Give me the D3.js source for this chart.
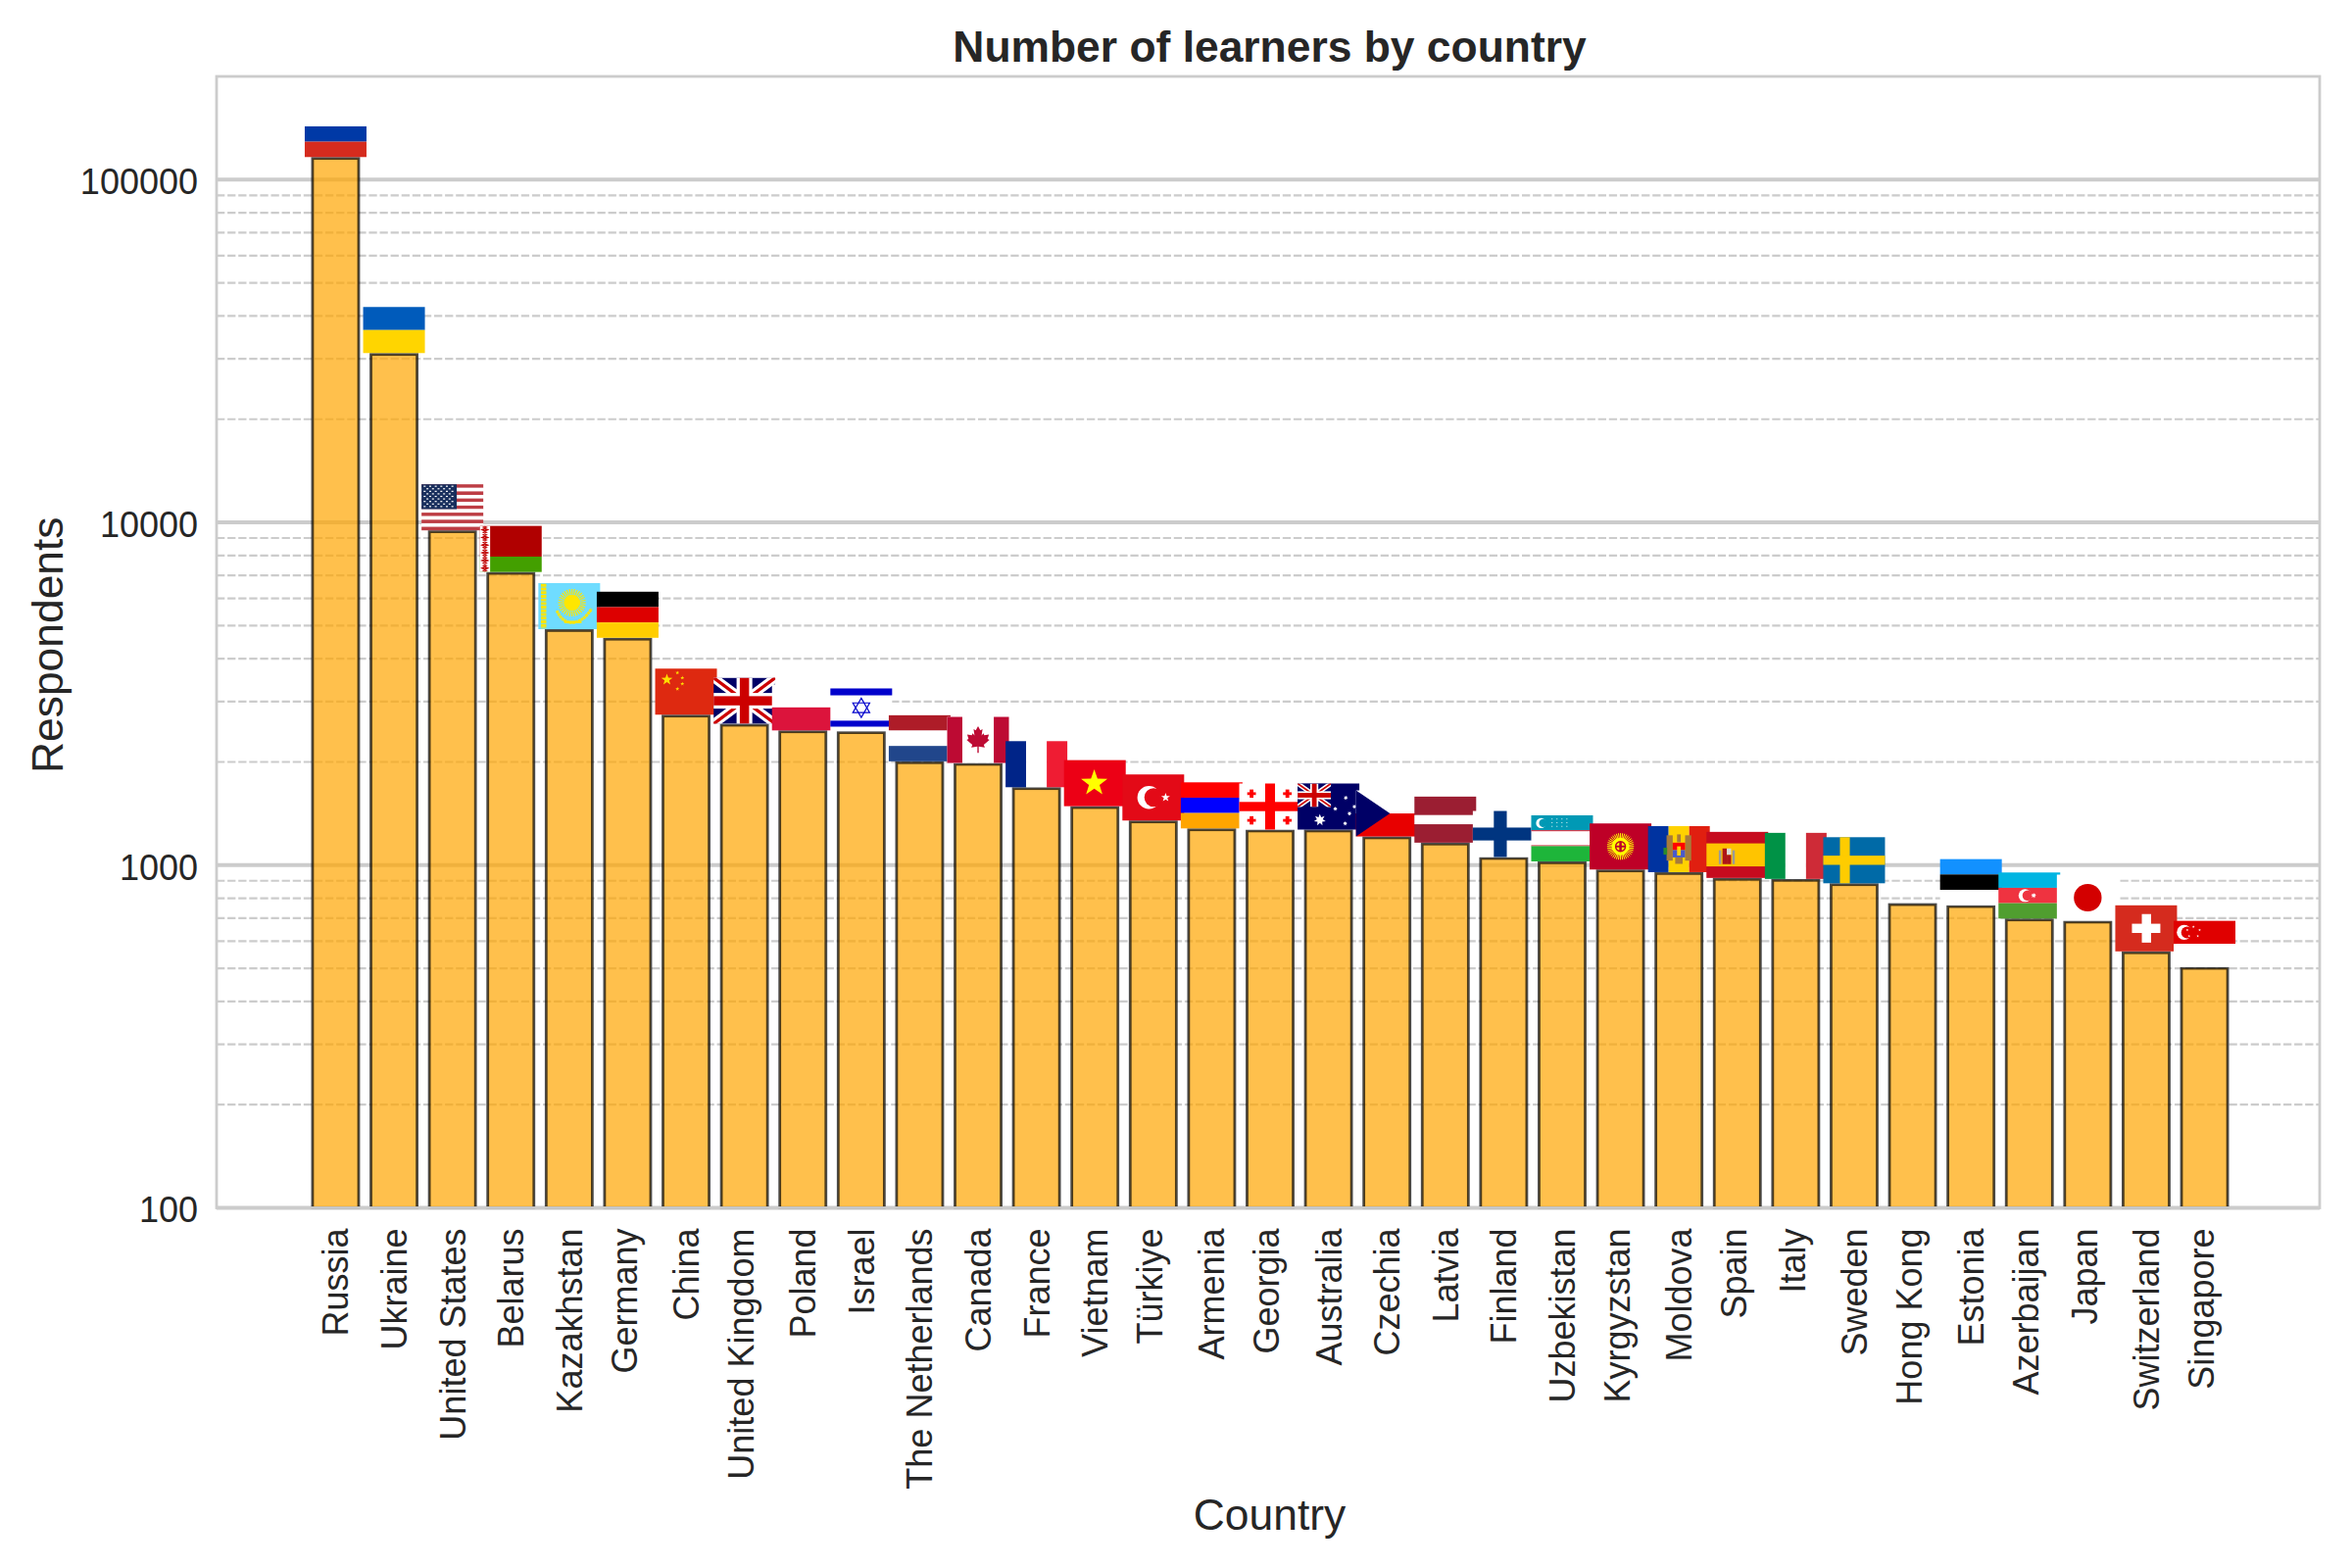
<!DOCTYPE html>
<html>
<head>
<meta charset="utf-8">
<script src="https://cdnjs.cloudflare.com/ajax/libs/d3/7.8.5/d3.min.js"></script>
<style>
  body { margin: 0; background: #fff; }
  text { font-family: "Liberation Sans", Arial, sans-serif; fill: #262626; }
</style>
</head>
<body>
<div id="vizcontainer"></div>
<script>
var countries = ["Russia", "Ukraine", "United States", "Belarus", "Kazakhstan", "Germany", "China",
    "United Kingdom", "Poland", "Israel", "The Netherlands", "Canada", "France", "Vietnam", "Türkiye",
    "Armenia", "Georgia", "Australia", "Czechia", "Latvia", "Finland", "Uzbekistan", "Kyrgyzstan",
    "Moldova", "Spain", "Italy", "Sweden", "Hong Kong", "Estonia", "Azerbaijan", "Japan", "Switzerland",
    "Singapore"];
var respondents = [115300, 30900, 9390, 7100, 4835, 4563, 2722, 2560, 2449, 2435, 1990, 1968, 1672, 1472,
    1337, 1268, 1258, 1258, 1201, 1152, 1046, 1016, 962, 945, 909, 903, 877, 767, 757, 692, 682, 555, 500];
var majorTicks = [100, 1000, 10000, 100000];
var yDomain = [100, 200000];

var width = 2400, height = 1600;
var left = 221, right = 2367, top_ = 78, bottom = 1232.5;

var svg = d3.select("#vizcontainer").append("svg")
    .attr("width", width).attr("height", height)
    .style("display", "block").style("background-color", "#fff");

var x = d3.scaleBand().domain(countries).range([left, right + 4]).paddingInner(0.21).paddingOuter(1.643);
var y = d3.scaleLog().domain(yDomain).range([bottom, top_]);

var minorTicks = y.ticks().filter(function(d) {
    return majorTicks.indexOf(d) == -1 && d < yDomain[1];
});

// grid goes under the bars, they are see-through
svg.selectAll(".minor").data(minorTicks).enter().append("line")
    .attr("class", "minor")
    .attr("x1", left).attr("x2", right)
    .attr("y1", y).attr("y2", y)
    .attr("stroke", "#cccccc").attr("stroke-width", 2.2)
    .attr("stroke-dasharray", "8.3 2.8");
svg.selectAll(".major").data(majorTicks).enter().append("line")
    .attr("class", "major")
    .attr("x1", left).attr("x2", right)
    .attr("y1", y).attr("y2", y)
    .attr("stroke", "#cccccc").attr("stroke-width", 4);

svg.selectAll(".bar").data(countries).enter().append("rect")
    .attr("class", "bar")
    .attr("x", function(d) { return x(d); })
    .attr("width", x.bandwidth())
    .attr("y", function(d, i) { return y(respondents[i]); })
    .attr("height", function(d, i) { return bottom - y(respondents[i]); })
    .attr("fill", "orange").attr("fill-opacity", 0.7)
    .attr("stroke", "black").attr("stroke-opacity", 0.7).attr("stroke-width", 2.8);

// spines
svg.append("rect")
    .attr("x", left).attr("y", top_).attr("width", right - left).attr("height", bottom - top_)
    .attr("fill", "none").attr("stroke", "#cccccc").attr("stroke-width", 2.8);

// flag helpers, all coordinates are fractions of the flag box
var FW = 640, FH = 480;

function box(g, x0, y0, x1, y1, fill) {
    return g.append("rect")
        .attr("x", x0 * FW).attr("y", y0 * FH)
        .attr("width", (x1 - x0) * FW).attr("height", (y1 - y0) * FH)
        .attr("fill", fill);
}
function disc(g, cx, cy, r, fill) {
    return g.append("circle").attr("cx", cx * FW).attr("cy", cy * FH).attr("r", r * FH).attr("fill", fill);
}
function starPoints(cx, cy, r, n, inner) {
    var pts = [];
    for (var i = 0; i < n * 2; i++) {
        var a = -Math.PI / 2 + i * Math.PI / n;
        var rr = i % 2 == 0 ? r : r * inner;
        pts.push([cx * FW + rr * FH * Math.cos(a), cy * FH + rr * FH * Math.sin(a)].join(","));
    }
    return pts.join(" ");
}
function star(g, cx, cy, r, fill, n, inner) {
    return g.append("polygon").attr("points", starPoints(cx, cy, r, n || 5, inner || 0.4)).attr("fill", fill);
}
function stripes(g, colors) {
    colors.forEach(function(c, i) {
        box(g, 0, i / colors.length, 1, (i + 1) / colors.length, c);
    });
}
function columns(g, colors) {
    colors.forEach(function(c, i) {
        box(g, i / colors.length, 0, (i + 1) / colors.length, 1, c);
    });
}
function crescent(g, cx, cy, r, bg) {
    disc(g, cx, cy, r, "#fff");
    disc(g, cx + r * 0.3, cy, r * 0.8, bg);
}
function poly(g, points, fill) {
    return g.append("polygon").attr("fill", fill).attr("points", points.map(function(p) {
        return (p[0] * FW) + "," + (p[1] * FH);
    }).join(" "));
}
function unionJack(g, x1, y1, id) {
    var w = x1 * FW, h = y1 * FH;
    var clip = svg.append("clipPath").attr("id", id);
    clip.append("rect").attr("width", w).attr("height", h);
    var u = g.append("g").attr("clip-path", "url(#" + id + ")");
    u.append("rect").attr("width", w).attr("height", h).attr("fill", "#000066");
    var diag = "M0,0L" + w + "," + h + "M" + w + ",0L0," + h;
    u.append("path").attr("d", diag).attr("stroke", "#fff").attr("stroke-width", h * 0.2);
    u.append("path").attr("d", diag).attr("stroke", "#cc0000").attr("stroke-width", h * 0.07);
    u.append("rect").attr("x", w * 0.5 - h * 0.17).attr("width", h * 0.34).attr("height", h).attr("fill", "#fff");
    u.append("rect").attr("y", h * 0.33).attr("width", w).attr("height", h * 0.34).attr("fill", "#fff");
    u.append("rect").attr("x", w * 0.5 - h * 0.1).attr("width", h * 0.2).attr("height", h).attr("fill", "#cc0000");
    u.append("rect").attr("y", h * 0.4).attr("width", w).attr("height", h * 0.2).attr("fill", "#cc0000");
}
function rays(g, cx, cy, r0, r1, count, color, sw) {
    d3.range(count).forEach(function(i) {
        var a = i / count * 2 * Math.PI;
        g.append("line")
            .attr("x1", cx * FW + r0 * FH * Math.cos(a)).attr("y1", cy * FH + r0 * FH * Math.sin(a))
            .attr("x2", cx * FW + r1 * FH * Math.cos(a)).attr("y2", cy * FH + r1 * FH * Math.sin(a))
            .attr("stroke", color).attr("stroke-width", sw);
    });
}

var mapleLeaf = [[0,-100],[-17,-68],[-33,-77],[-26,-30],[-40,-46],[-46,-32],[-80,-38],[-70,-5],[-84,3],[-42,40],
    [-50,60],[-5,52],[-5,100],[5,100],[5,52],[50,60],[42,40],[84,3],[70,-5],[80,-38],[46,-32],[40,-46],[26,-30],
    [33,-77],[17,-68]];

var flagDrawers = {
    "Russia": function(g) { stripes(g, ["#fff", "#0039a6", "#d52b1e"]); },
    "Ukraine": function(g) { stripes(g, ["#005bbb", "#ffd500"]); },
    "United States": function(g) {
        d3.range(13).forEach(function(i) {
            box(g, 0, i / 13, 1, (i + 1) / 13, i % 2 == 0 ? "#bd3d44" : "#fff");
        });
        box(g, 0, 0, 0.57, 7 / 13, "#192f5d");
        d3.range(9).forEach(function(row) {
            var n = row % 2 == 0 ? 6 : 5;
            d3.range(n).forEach(function(col) {
                var cx = (row % 2 == 0 ? 0.05 : 0.095) + col * 0.09;
                box(g, cx - 0.016, 0.03 + row * 0.055, cx + 0.016, 0.055 + row * 0.055, "#fff");
            });
        });
    },
    "Belarus": function(g) {
        box(g, 0, 0, 1, 2 / 3, "#b00000");
        box(g, 0, 2 / 3, 1, 1, "#439f00");
        box(g, 0, 0, 0.165, 1, "#fff");
        // ornament column, one big diamond every third row
        d3.range(18).forEach(function(i) {
            var cy = (i + 0.5) / 18;
            var big = i % 3 == 1;
            var rx = big ? 0.075 : 0.05, ry = big ? 0.04 : 0.026;
            poly(g, [[0.08, cy - ry], [0.08 + rx, cy], [0.08, cy + ry], [0.08 - rx, cy]], "#c00000");
            disc(g, 0.08, cy, 0.009, "#fff");
        });
    },
    "Kazakhstan": function(g) {
        box(g, 0, 0, 1, 1, "#6fdcff");
        var yellow = "#ffe600";
        g.append("path")
            .attr("d", "M" + (0.085 * FW) + ",8V" + (FH - 8))
            .attr("stroke", yellow).attr("stroke-width", 56).attr("stroke-dasharray", "30 8");
        rays(g, 0.545, 0.425, 0.19, 0.3, 32, yellow, 12);
        disc(g, 0.545, 0.425, 0.18, yellow);
        g.append("path")
            .attr("d", "M" + (0.3 * FW) + "," + (0.6 * FH) + "Q" + (0.4 * FW) + "," + (0.9 * FH) + " " + (0.6 * FW) + "," + (0.85 * FH)
                + "Q" + (0.75 * FW) + "," + (0.8 * FH) + " " + (0.86 * FW) + "," + (0.56 * FH))
            .attr("fill", "none").attr("stroke", yellow).attr("stroke-width", 30).attr("stroke-dasharray", "26 5");
        box(g, 0.42, 0.82, 0.7, 0.87, yellow);
    },
    "Germany": function(g) { stripes(g, ["#000", "#dd0000", "#ffce00"]); },
    "China": function(g) {
        box(g, 0, 0, 1, 1, "#de2910");
        star(g, 0.19, 0.24, 0.13, "#ffde00");
        [[0.36, 0.09], [0.44, 0.2], [0.44, 0.33], [0.36, 0.44]].forEach(function(p) {
            star(g, p[0], p[1], 0.045, "#ffde00");
        });
    },
    "United Kingdom": function(g) {
        unionJack(g, 1, 1, "uk-clip");
    },
    "Poland": function(g) { stripes(g, ["#fff", "#dc143c"]); },
    "Israel": function(g) {
        box(g, 0, 0, 1, 1, "#fff");
        box(g, 0, 0.07, 1, 0.22, "#0000cc");
        box(g, 0, 0.77, 1, 0.9, "#0000cc");
        [0, 1].forEach(function(i) {
            var cy = 0.49 * FH, r = 0.21 * FH, flip = i == 0 ? 1 : -1;
            var pts = [0, 1, 2].map(function(k) {
                var a = -Math.PI / 2 + k * 2 * Math.PI / 3;
                return [0.5 * FW + r * Math.cos(a), cy + flip * r * Math.sin(a)].join(",");
            }).join(" ");
            g.append("polygon").attr("points", pts).attr("fill", "none").attr("stroke", "#0000cc").attr("stroke-width", 12);
        });
    },
    "The Netherlands": function(g) { stripes(g, ["#ae1c28", "#fff", "#21468b"]); },
    "Canada": function(g) {
        box(g, 0, 0, 1, 1, "#fff");
        box(g, 0, 0, 0.245, 1, "#bd0a33");
        box(g, 0.755, 0, 1, 1, "#bd0a33");
        poly(g, mapleLeaf.map(function(p) {
            return [0.5 + p[0] * 0.0022, 0.49 + p[1] * 0.0029];
        }), "#bd0a33");
    },
    "France": function(g) { columns(g, ["#002488", "#fff", "#ef1c33"]); },
    "Vietnam": function(g) {
        box(g, 0, 0, 1, 1, "#ec0015");
        star(g, 0.49, 0.5, 0.3, "#ffff00");
    },
    "Türkiye": function(g) {
        box(g, 0, 0, 1, 1, "#e30a17");
        crescent(g, 0.43, 0.5, 0.25, "#e30a17");
        star(g, 0.7, 0.5, 0.1, "#fff");
    },
    "Armenia": function(g) { stripes(g, ["#ff0000", "#0000ff", "#ffa500"]); },
    "Georgia": function(g) {
        box(g, 0, 0, 1, 1, "#fff");
        box(g, 0.42, 0, 0.58, 1, "#ff0000");
        box(g, 0, 0.4, 1, 0.6, "#ff0000");
        [[0.2, 0.22], [0.78, 0.22], [0.2, 0.8], [0.78, 0.8]].forEach(function(p) {
            box(g, p[0] - 0.07, p[1] - 0.03, p[0] + 0.07, p[1] + 0.03, "#ff0000");
            box(g, p[0] - 0.03, p[1] - 0.09, p[0] + 0.03, p[1] + 0.09, "#ff0000");
        });
    },
    "Australia": function(g) {
        box(g, 0, 0, 1, 1, "#000066");
        unionJack(g, 0.54, 0.51, "au-clip");
        star(g, 0.36, 0.79, 0.13, "#fff", 7, 0.5);
        [[0.78, 0.31], [0.61, 0.55], [0.92, 0.5], [0.84, 0.65], [0.77, 0.87]].forEach(function(p) {
            star(g, p[0], p[1], 0.05, "#fff", 7, 0.5);
        });
    },
    "Czechia": function(g) {
        stripes(g, ["#fff", "#e80000"]);
        poly(g, [[0, 0], [0.55, 0.5], [0, 1]], "#000066");
    },
    "Latvia": function(g) {
        box(g, 0, 0, 1, 1, "#9b1e32");
        box(g, 0, 0.4, 1, 0.6, "#fff");
    },
    "Finland": function(g) {
        box(g, 0, 0, 1, 1, "#fff");
        box(g, 0.34, 0, 0.55, 1, "#003580");
        box(g, 0, 0.36, 1, 0.64, "#003580");
    },
    "Uzbekistan": function(g) {
        box(g, 0, 0, 1, 1, "#fff");
        box(g, 0, 0, 1, 0.325, "#0099b5");
        box(g, 0, 0.325, 1, 0.345, "#ce1126");
        box(g, 0, 0.65, 1, 0.67, "#ce1126");
        box(g, 0, 0.67, 1, 1, "#1eb53a");
        crescent(g, 0.16, 0.17, 0.11, "#0099b5");
        d3.range(3).forEach(function(row) {
            d3.range(4).forEach(function(col) {
                box(g, 0.33 + col * 0.08, 0.07 + row * 0.08, 0.345 + col * 0.08, 0.09 + row * 0.08, "#fff");
            });
        });
    },
    "Kyrgyzstan": function(g) {
        box(g, 0, 0, 1, 1, "#be0027");
        rays(g, 0.5, 0.5, 0.17, 0.29, 40, "#ffff00", 10);
        disc(g, 0.5, 0.5, 0.19, "#ffff00");
        disc(g, 0.5, 0.5, 0.12, "#be0027");
        disc(g, 0.5, 0.5, 0.09, "#ffff00");
        box(g, 0.48, 0.4, 0.52, 0.6, "#be0027");
        box(g, 0.42, 0.48, 0.58, 0.52, "#be0027");
    },
    "Moldova": function(g) {
        columns(g, ["#0033a0", "#ffd200", "#e01f10"]);
        box(g, 0.3, 0.2, 0.4, 0.75, "#a77b3b");
        box(g, 0.6, 0.2, 0.7, 0.75, "#a77b3b");
        box(g, 0.47, 0.18, 0.53, 0.35, "#a77b3b");
        box(g, 0.4, 0.36, 0.6, 0.52, "#ff0000");
        box(g, 0.4, 0.52, 0.6, 0.68, "#4a5acb");
        box(g, 0.47, 0.44, 0.53, 0.64, "#ffd200");
        box(g, 0.44, 0.68, 0.56, 0.82, "#a77b3b");
        box(g, 0.25, 0.47, 0.31, 0.62, "#2c8a2c");
    },
    "Spain": function(g) {
        box(g, 0, 0, 1, 1, "#c60b1e");
        box(g, 0, 0.25, 1, 0.75, "#ffc400");
        box(g, 0.2, 0.4, 0.24, 0.7, "#9a9a9a");
        box(g, 0.42, 0.4, 0.46, 0.7, "#9a9a9a");
        box(g, 0.26, 0.36, 0.33, 0.7, "#ad1519");
        box(g, 0.33, 0.36, 0.4, 0.5, "#d8d8d8");
        box(g, 0.33, 0.5, 0.4, 0.7, "#ad1519");
    },
    "Italy": function(g) { columns(g, ["#009246", "#fff", "#ce2b37"]); },
    "Sweden": function(g) {
        box(g, 0, 0, 1, 1, "#006aa7");
        box(g, 0.27, 0, 0.43, 1, "#fecc00");
        box(g, 0, 0.4, 1, 0.6, "#fecc00");
    },
    "Estonia": function(g) { stripes(g, ["#1291ff", "#000", "#fff"]); },
    "Azerbaijan": function(g) {
        stripes(g, ["#00b5e2", "#ef3340", "#509e2f"]);
        crescent(g, 0.43, 0.5, 0.14, "#ef3340");
        star(g, 0.57, 0.5, 0.06, "#fff", 8, 0.5);
    },
    "Japan": function(g) {
        box(g, 0, 0, 1, 1, "#fff");
        disc(g, 0.5, 0.5, 0.3, "#d30000");
    },
    "Switzerland": function(g) {
        box(g, 0, 0, 1, 1, "#d52b1e");
        box(g, 0.43, 0.19, 0.58, 0.81, "#fff");
        box(g, 0.27, 0.4, 0.73, 0.6, "#fff");
    },
    "Singapore": function(g) {
        stripes(g, ["#e00000", "#fff"]);
        crescent(g, 0.17, 0.25, 0.16, "#e00000");
        [[0.32, 0.13], [0.42, 0.2], [0.39, 0.33], [0.25, 0.33], [0.22, 0.2]].forEach(function(p) {
            star(g, p[0], p[1], 0.03, "#fff");
        });
    }
};

// flags sit on top of the bars, later ones cover the neighbour on the left
var flagW = 63, flagH = 47;
countries.forEach(function(name, i) {
    var draw = flagDrawers[name];
    if (!draw) return;  // no flag for Hong Kong
    var cx = x(name) + x.bandwidth() / 2;
    var g = svg.append("g")
        .attr("class", "flag")
        .attr("transform", "translate(" + (cx - flagW / 2) + "," + (y(respondents[i]) - 1.4 - flagH) + ")"
            + " scale(" + (flagW / FW) + "," + (flagH / FH) + ")");
    draw(g);
});

// axes
var yAxis = d3.axisLeft(y).tickValues(majorTicks).tickFormat(d3.format("d")).tickSize(0).tickPadding(19);
var yAxisG = svg.append("g").attr("transform", "translate(" + left + ",0)").call(yAxis);
yAxisG.select(".domain").remove();
yAxisG.selectAll("text")
    .style("font-size", "36px").style("font-family", "'Liberation Sans'").attr("fill", null)
    .attr("dy", ".4em");

var xAxis = d3.axisBottom(x).tickSize(0);
var xAxisG = svg.append("g").attr("transform", "translate(0," + bottom + ")").call(xAxis);
xAxisG.select(".domain").remove();
xAxisG.selectAll("text")
    .style("font-size", "36px").style("font-family", "'Liberation Sans'").attr("fill", null)
    .attr("text-anchor", "end")
    .attr("transform", "rotate(-90)")
    .attr("x", -21).attr("y", 0)
    // centre on the ink, names with a descender sit a bit further left
    .attr("dy", function(d) { return /[gjpqy]/.test(d) ? ".255em" : ".36em"; });

svg.append("text")
    .attr("x", (left + right) / 2 + 1.5).attr("y", 62.5)
    .attr("text-anchor", "middle")
    .style("font-size", "44.4px").style("font-weight", "bold")
    .text("Number of learners by country");

svg.append("text")
    .attr("x", (left + right) / 2 + 1.5).attr("y", 1561)
    .attr("text-anchor", "middle")
    .style("font-size", "44.4px")
    .text("Country");

svg.append("text")
    .attr("transform", "translate(64," + ((top_ + bottom) / 2 + 3) + ") rotate(-90)")
    .attr("text-anchor", "middle")
    .style("font-size", "44.4px")
    .text("Respondents");
</script>
</body>
</html>
